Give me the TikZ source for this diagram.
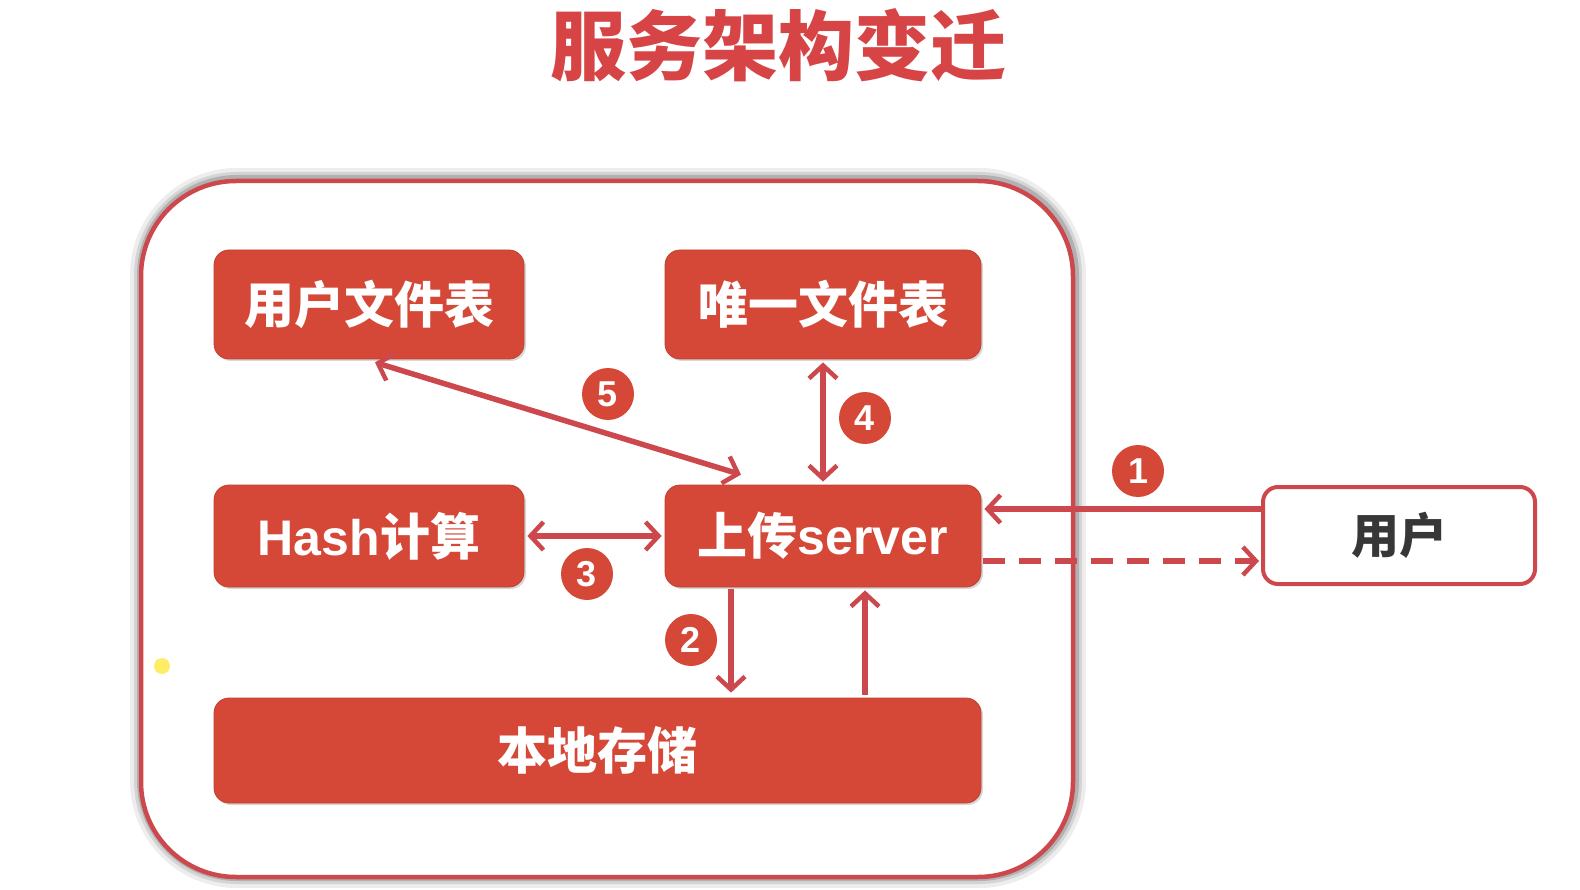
\documentclass[tikz,border=0pt]{standalone}
\usepackage{fontspec}
\newfontfamily\cjk{Noto Sans CJK SC}
\newfontfamily\lat{Liberation Sans}
\usetikzlibrary{arrows.meta,shadows}
\definecolor{boxred}{RGB}{213,72,56}
\definecolor{linered}{RGB}{204,72,76}
\definecolor{titlered}{RGB}{214,68,70}
\definecolor{txtgray}{RGB}{55,55,55}
\begin{document}
\begin{tikzpicture}[x=1pt,y=-1pt,
  redbox/.style={rectangle, rounded corners=15pt, fill=boxred, draw=boxred!90!black, line width=0.8pt,
     text=white, font={\cjk\bfseries\fontsize{50}{52}\selectfont}, inner sep=0pt,
     drop shadow={shadow xshift=2pt, shadow yshift=-2pt, opacity=0.3}},
  userbox/.style={rectangle, rounded corners=15pt, fill=white, draw=linered, line width=4pt,
     text=txtgray, font={\cjk\bfseries\fontsize{48}{50}\selectfont}, inner sep=0pt,
     minimum width=272pt, minimum height=97pt},
  numc/.style={circle, fill=boxred, text=white, minimum size=52pt, inner sep=0pt,
     font={\lat\bfseries\fontsize{36}{38}\selectfont}},
  tip/.tip={Straight Barb[length=13pt,width=28pt,line width=4.5pt]},
  conn/.style={draw=linered, line width=5.5pt, arrows={-tip}},
  conn2/.style={draw=linered, line width=5.5pt, arrows={tip-tip}}
]
\useasboundingbox (0,0) rectangle (1580,890);
\fill[white] (0,0) rectangle (1580,890);

% title
\node[text=titlered, font={\cjk\bfseries\fontsize{76}{78}\selectfont}] (title) at (778,45) {服务架构变迁};

% outer container with soft shadow
\begin{scope}[rounded corners=95pt]
  \draw[black, opacity=0.07, line width=24pt] (142,180) rectangle (1074,876);
  \draw[black, opacity=0.10, line width=16pt] (142,180) rectangle (1074,876);
  \draw[black, opacity=0.16, line width=10pt] (142,180) rectangle (1074,876);
\end{scope}
\node[rectangle, rounded corners=95pt, draw=linered, fill=white, line width=4.5pt,
      minimum width=932pt, minimum height=696pt] (outer) at (607,529) {};

% boxes
\node[redbox, minimum width=310pt, minimum height=109pt] (uft) at (369,304.5) {用户文件表};
\node[redbox, minimum width=316pt, minimum height=109pt] (uniq) at (823,304.5) {唯一文件表};
\node[redbox, minimum width=310pt, minimum height=102pt] (hash) at (369,536) {{\lat\bfseries Hash}计算};
\node[redbox, minimum width=316pt, minimum height=102pt] (srv) at (823,536) {上传{\lat\bfseries server}};
\node[redbox, minimum width=767pt, minimum height=105pt] (store) at (597.5,750.5) {本地存储};
\node[userbox] (user) at (1399,535.5) {用户};

% connectors
\draw[conn2] ([xshift=6pt,yshift=-3pt]uft.south) -- ([xshift=-82pt,yshift=10pt]srv.north);
\draw[conn2] ([yshift=-3pt]uniq.south) -- ([yshift=3pt]srv.north);
\draw[conn2] ([xshift=3pt]hash.east) -- ([xshift=-3pt]srv.west);
\draw[conn] ([xshift=-92pt,yshift=-2pt]srv.south) -- ([xshift=133.5pt,yshift=5pt]store.north);
\draw[conn] ([xshift=267.5pt,yshift=3pt]store.north) -- ([xshift=42pt,yshift=-3pt]srv.south);
\draw[conn] ([yshift=26.5pt]user.west) -- ([yshift=27pt,xshift=3pt]srv.east);
\draw[conn, dash pattern=on 22pt off 14pt] ([yshift=-25pt,xshift=2pt]srv.east) -- ([yshift=-25.5pt,xshift=-2pt]user.west);

% number circles
\node[numc] (n5) at (608,394) {5};
\node[numc] (n4) at (865,418) {4};
\node[numc] (n1) at (1138,471) {1};
\node[numc] (n3) at (587,574) {3};
\node[numc] (n2) at (691,640) {2};

% highlight dot
\fill[yellow!85!orange!60] (162,666) circle (8pt);
\end{tikzpicture}
\end{document}
